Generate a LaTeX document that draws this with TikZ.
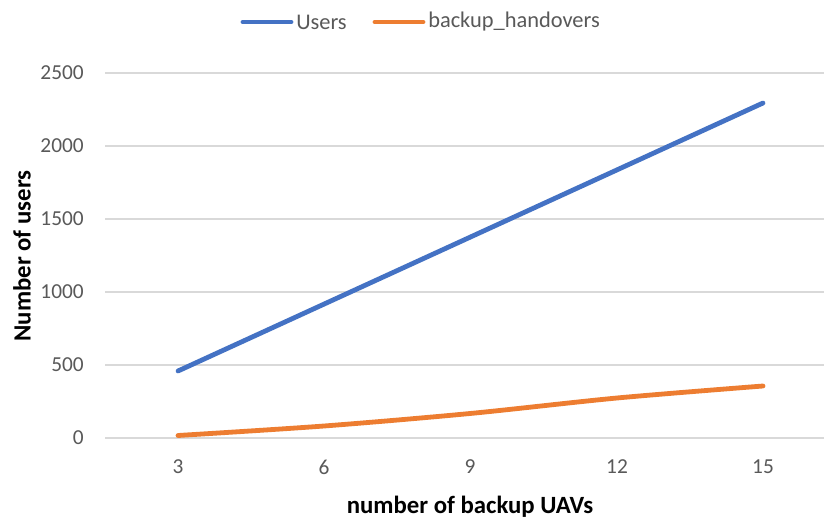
\documentclass[tikz,border=0pt]{standalone}
\usepackage{fontspec}
\setmainfont{Carlito}
\definecolor{ublue}{HTML}{4472C4}
\definecolor{borange}{HTML}{ED7D31}
\definecolor{gridc}{HTML}{D9D9D9}
\definecolor{labc}{HTML}{595959}
\begin{document}
\begin{tikzpicture}[x=0.75pt,y=-0.75pt,
  gridline/.style={draw=gridc,line width=1.1pt},
  ticklab/.style={text=labc,font=\fontsize{16}{18}\selectfont,inner sep=0pt},
  leglab/.style={text=labc,font=\fontsize{16.8}{19}\selectfont,inner sep=0pt},
  axtitle/.style={text=black,font=\fontsize{18.6}{21}\selectfont\bfseries,inner sep=0pt},
  series/.style={line width=3.6pt,line cap=round,line join=round},
  legline/.style={line width=3.6pt,line cap=round}]
\useasboundingbox[fill=white] (0,0) rectangle (826,521);
% gridlines
\foreach \v/\yy in {0/438,500/365,1000/292,1500/219,2000/146,2500/73}{
  \coordinate (gl\v) at (105,\yy);
  \coordinate (gr\v) at (824,\yy);
  \draw[gridline] (gl\v) -- (gr\v);
  \node[ticklab,anchor=east] (yl\v) at (84,\yy) {\v};
}
% x tick labels
\foreach \c/\xx in {3/178,6/324,9/470,12/617,15/763}{
  \node[ticklab] (xl\c) at (\xx,467) {\c};
}
% axis titles
\node[axtitle] (xtitle) at (470,507) {number of backup UAVs};
\node[axtitle,rotate=90] (ytitle) at (22,256) {Number of users};
% series
\coordinate (u3) at (178,371);
\coordinate (u15) at (763,103);
\draw[series,ublue] (u3) -- (u15);
\coordinate (b3) at (178,435.5);
\coordinate (b6) at (324,426);
\coordinate (b9) at (470,413.5);
\coordinate (b12) at (617,398);
\coordinate (b15) at (763,386);
\draw[series,borange] plot[smooth,tension=0.5] coordinates {(b3) (b6) (b9) (b12) (b15)};
% legend
\coordinate (l1a) at (243,22);
\coordinate (l1b) at (291,22);
\draw[legline,ublue] (l1a) -- (l1b);
\node[leglab,anchor=west] (leg1) at (296,22) {Users};
\coordinate (l2a) at (375,22);
\coordinate (l2b) at (423,22);
\draw[legline,borange] (l2a) -- (l2b);
\node[leglab,anchor=west] (leg2) at (428,22) {backup\_handovers};
\end{tikzpicture}
\end{document}
